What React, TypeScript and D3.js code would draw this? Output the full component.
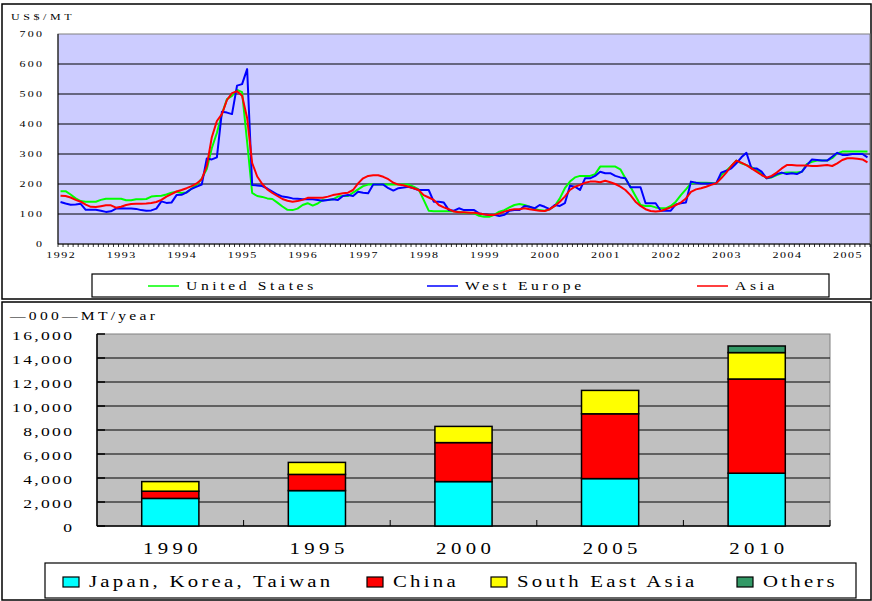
import React, { useEffect, useRef } from 'react';
import * as d3 from 'd3';

// monthly categories, Jan 1992 .. May 2005
const months = d3.timeMonth.range(new Date(1992, 0, 1), new Date(2005, 5, 1));

const unitedStates = [
    176, 176, 165, 152, 143, 141, 141, 141, 147, 151, 151, 151,
    151, 146, 146, 149, 149, 150, 158, 160, 161, 165, 171, 174,
    170, 172, 185, 197, 218, 250, 320, 370, 433, 483, 494, 514,
    506, 340, 170, 160, 157, 152, 150, 138, 125, 114, 113, 118,
    130, 136, 128, 135, 147, 147, 149, 158, 160, 160, 171, 182,
    193, 198, 198, 198, 198, 198, 198, 198, 198, 198, 191, 182,
    147, 111, 109, 109, 109, 109, 109, 107, 104, 104, 102, 94,
    91, 91, 97, 108, 113, 122, 130, 133, 130, 124, 117, 113,
    111, 116, 127, 152, 186, 208, 222, 227, 227, 227, 233, 258,
    258, 258, 258, 249, 219, 191, 160, 130, 127, 127, 122, 119,
    119, 127, 141, 163, 182, 202, 204, 204, 204, 203, 202, 230,
    244, 260, 278, 269, 263, 256, 247, 233, 219, 222, 230, 236,
    238, 238, 238, 241, 267, 274, 278, 278, 278, 286, 302, 308,
    308, 308, 308, 308, 308,
];

const westEurope = [
    140, 135, 131, 132, 134, 114, 114, 114, 111, 107, 109, 118,
    119, 118, 118, 117, 113, 111, 112, 118, 142, 137, 138, 163,
    164, 172, 184, 191, 198, 285, 282, 289, 441, 438, 433, 528,
    533, 583, 197, 195, 193, 185, 175, 165, 158, 156, 152, 151,
    149, 149, 149, 147, 144, 147, 149, 147, 160, 163, 160, 174,
    171, 169, 198, 198, 198, 186, 178, 186, 188, 191, 186, 180,
    180, 180, 141, 141, 138, 113, 111, 119, 113, 113, 113, 102,
    99, 97, 97, 93, 97, 111, 113, 113, 127, 124, 119, 130,
    124, 116, 130, 127, 136, 194, 191, 180, 219, 219, 227, 241,
    236, 236, 227, 222, 219, 189, 189, 189, 136, 136, 136, 111,
    111, 111, 132, 136, 138, 208, 204, 202, 202, 202, 202, 238,
    244, 252, 269, 289, 304, 252, 252, 241, 219, 224, 233, 238,
    233, 236, 233, 241, 263, 282, 280, 278, 278, 291, 304, 297,
    297, 300, 300, 300, 289,
];

const asia = [
    161, 160, 155, 147, 141, 131, 124, 123, 126, 129, 129, 121,
    124, 130, 133, 134, 134, 135, 137, 140, 147, 158, 166, 175,
    180, 186, 193, 202, 216, 260, 356, 410, 433, 480, 503, 509,
    494, 420, 270, 225, 200, 182, 170, 160, 150, 144, 141, 143,
    147, 154, 154, 154, 154, 158, 163, 166, 169, 171, 180, 202,
    219, 227, 229, 229, 224, 216, 204, 198, 196, 191, 186, 180,
    163, 155, 147, 130, 122, 116, 108, 106, 106, 104, 104, 102,
    99, 97, 97, 102, 108, 113, 116, 116, 119, 116, 113, 111,
    110, 116, 127, 141, 158, 180, 191, 197, 204, 208, 208, 206,
    211, 206, 200, 191, 180, 163, 141, 127, 116, 110, 108, 110,
    116, 122, 130, 138, 152, 174, 182, 186, 191, 197, 202, 219,
    238, 260, 278, 271, 263, 252, 241, 230, 221, 227, 238, 252,
    263, 263, 262, 262, 262, 260, 260, 262, 263, 260, 269, 280,
    286, 286, 284, 282, 272,
];

const priceTicks = [0, 100, 200, 300, 400, 500, 600, 700];
const priceSeries = [
    { name: 'United States', values: unitedStates, color: '#00ff00' },
    { name: 'West Europe', values: westEurope, color: '#0000ff' },
    { name: 'Asia', values: asia, color: '#ff0000' },
];

const demandYears = ['1990', '1995', '2000', '2005', '2010'];
const japanKoreaTaiwan = [2300, 2950, 3700, 3950, 4400];
const china = [600, 1350, 3250, 5400, 7850];
const southEastAsia = [800, 1000, 1350, 1950, 2200];
const others = [0, 0, 0, 0, 550];
const demandTicks = [0, 2000, 4000, 6000, 8000, 10000, 12000, 14000, 16000];
const demandKeys = ['Japan, Korea, Taiwan', 'China', 'South East Asia', 'Others'];
const demandColors = ['#00ffff', '#ff0000', '#ffff00', '#339966'];

const FONT = '"Liberation Serif", "DejaVu Serif", serif';

// stretched, widely spaced text like the original export
function label(g: any, x: number, y: number, text: string, size: number, sx: number, ls: number, anchor = 'start') {
    let dx = 0;
    if (anchor === 'end') dx = ls * sx;
    if (anchor === 'middle') dx = (ls * sx) / 2;
    g.append('text')
        .attr('transform', `translate(${x + dx},${y}) scale(${sx},1)`)
        .attr('font-family', FONT)
        .attr('font-size', size)
        .attr('letter-spacing', ls)
        .attr('text-anchor', anchor)
        .attr('fill', '#000')
        .text(text);
}

const App: React.FC = () => {
    const ref = useRef<SVGSVGElement>(null);

    useEffect(() => {
        const svg = d3.select(ref.current);
        svg.selectAll('*').remove();

        // ---------- top panel: prices ----------
        const top = svg.append('g');
        top.append('rect').attr('x', 2).attr('y', 4).attr('width', 869).attr('height', 295)
            .attr('fill', '#fff').attr('stroke', '#000').attr('stroke-width', 1.5);

        const x = d3.scaleBand<number>().domain(d3.range(months.length)).range([58, 870]);
        const y = d3.scaleLinear().domain([0, 700]).range([244, 34]);

        top.append('rect').attr('x', 58).attr('y', 34).attr('width', 812).attr('height', 210)
            .attr('fill', '#ccccff').attr('stroke', '#808080');

        top.selectAll('.grid').data(priceTicks.filter(d => d > 0 && d < 700)).enter().append('line')
            .attr('x1', 58).attr('x2', 870).attr('y1', d => y(d)).attr('y2', d => y(d))
            .attr('stroke', '#000').attr('stroke-width', 1);

        top.append('line').attr('x1', 58).attr('x2', 58).attr('y1', 34).attr('y2', 244).attr('stroke', '#000');
        top.append('line').attr('x1', 58).attr('x2', 870).attr('y1', 244).attr('y2', 244).attr('stroke', '#000');

        top.selectAll('.mtick').data(d3.range(months.length + 1)).enter().append('line')
            .attr('x1', i => 58 + i * x.step()).attr('x2', i => 58 + i * x.step())
            .attr('y1', 244).attr('y2', 247).attr('stroke', '#000').attr('stroke-width', 0.8);

        priceTicks.forEach(t => label(top, 42, y(t) + 3, String(t), 8, 1.5, 1.5, 'end'));
        months.forEach((m, i) => {
            if (m.getMonth() === 0) label(top, (x(i) as number) + x.bandwidth() / 2, 258, String(m.getFullYear()), 8, 1.5, 1, 'middle');
        });
        label(top, 11, 20, 'US$/MT', 8, 1.5, 2.4);

        const line = d3.line<number>()
            .x((_, i) => (x(i) as number) + x.bandwidth() / 2)
            .y(d => y(d));

        priceSeries.forEach(s => {
            top.append('path').datum(s.values).attr('d', line)
                .attr('fill', 'none').attr('stroke', s.color).attr('stroke-width', 2)
                .attr('stroke-linejoin', 'round');
        });

        // legend
        top.append('rect').attr('x', 92).attr('y', 274).attr('width', 737).attr('height', 23)
            .attr('fill', '#fff').attr('stroke', '#000').attr('stroke-width', 1.2);
        const legX = [148, 427, 697];
        priceSeries.forEach((s, i) => {
            top.append('line').attr('x1', legX[i]).attr('x2', legX[i] + 31).attr('y1', 286).attr('y2', 286)
                .attr('stroke', s.color).attr('stroke-width', 1.5);
            label(top, legX[i] + 38, 290, s.name, 12, 1.3, 2.8);
        });

        // ---------- bottom panel: demand ----------
        const bot = svg.append('g');
        bot.append('rect').attr('x', 2).attr('y', 302).attr('width', 869).attr('height', 298)
            .attr('fill', '#fff').attr('stroke', '#000').attr('stroke-width', 1.5);

        const bx = d3.scaleBand<string>().domain(demandYears).range([97, 830])
            .paddingInner(0.61).paddingOuter(0.305);
        const by = d3.scaleLinear().domain([0, 16000]).range([526, 334]);

        bot.append('rect').attr('x', 97).attr('y', 334).attr('width', 733).attr('height', 192)
            .attr('fill', '#c0c0c0').attr('stroke', '#808080');
        bot.selectAll('.grid').data(demandTicks.filter(d => d > 0 && d < 16000)).enter().append('line')
            .attr('x1', 97).attr('x2', 830).attr('y1', d => by(d)).attr('y2', d => by(d))
            .attr('stroke', '#000').attr('stroke-width', 1);
        bot.selectAll('.ytick').data(demandTicks).enter().append('line')
            .attr('x1', 97).attr('x2', 105).attr('y1', d => by(d)).attr('y2', d => by(d))
            .attr('stroke', '#000').attr('stroke-width', 1.5);
        bot.append('line').attr('x1', 97).attr('x2', 97).attr('y1', 334).attr('y2', 526).attr('stroke', '#000').attr('stroke-width', 1.5);
        bot.append('line').attr('x1', 97).attr('x2', 830).attr('y1', 526).attr('y2', 526).attr('stroke', '#000').attr('stroke-width', 1.5);
        bot.selectAll('.xtick').data(d3.range(1, demandYears.length + 1)).enter().append('line')
            .attr('x1', i => 97 + i * bx.step()).attr('x2', i => 97 + i * bx.step())
            .attr('y1', 520).attr('y2', 526).attr('stroke', '#000');

        const rows = demandYears.map((yr, i) => ({
            year: yr,
            [demandKeys[0]]: japanKoreaTaiwan[i],
            [demandKeys[1]]: china[i],
            [demandKeys[2]]: southEastAsia[i],
            [demandKeys[3]]: others[i],
        }));
        const stacked = d3.stack<any>().keys(demandKeys)(rows);

        stacked.forEach((layer, k) => {
            bot.selectAll(`.bar${k}`).data(layer.filter(d => d[1] - d[0] > 0)).enter().append('rect')
                .attr('x', d => bx(d.data.year) as number)
                .attr('width', bx.bandwidth())
                .attr('y', d => by(d[1]))
                .attr('height', d => by(d[0]) - by(d[1]))
                .attr('fill', demandColors[k]).attr('stroke', '#000').attr('stroke-width', 1.5);
        });

        demandTicks.forEach(t => label(bot, 72, by(t) + 6, d3.format(',')(t), 13.5, 1.3, 1.8, 'end'));
        demandYears.forEach(yr => label(bot, (bx(yr) as number) + bx.bandwidth() / 2, 554, yr, 16, 1.3, 3.4, 'middle'));
        label(bot, 10, 320, '—000—MT/year', 12, 1.3, 2.5);

        // legend
        bot.append('rect').attr('x', 45).attr('y', 563).attr('width', 811).attr('height', 35)
            .attr('fill', '#fff').attr('stroke', '#000').attr('stroke-width', 1.2);
        const bLegX = [63, 367, 491, 737];
        demandKeys.forEach((k, i) => {
            bot.append('rect').attr('x', bLegX[i]).attr('y', 577).attr('width', 16).attr('height', 10)
                .attr('fill', demandColors[i]).attr('stroke', '#000').attr('stroke-width', 1.2);
            label(bot, bLegX[i] + 26, 587, k, 16, 1.3, 2.5);
        });
    }, []);

    return (
        <svg ref={ref} width={872} height={601}
            style={{ position: 'absolute', left: 0, top: 0, background: '#fff' }} />
    );
};

export default App;
